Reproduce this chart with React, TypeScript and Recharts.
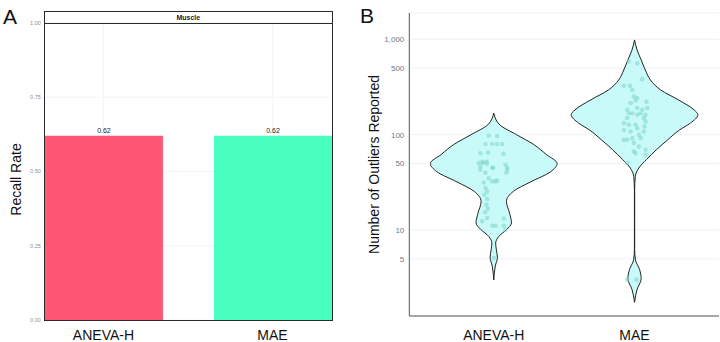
import React from 'react';
import {
  BarChart,
  Bar,
  Cell,
  ComposedChart,
  Area,
  Scatter,
  XAxis,
  YAxis,
  CartesianGrid,
  LabelList,
} from 'recharts';

const FONT = '"Liberation Sans", Arial, sans-serif';

// panel A
const methods = ['ANEVA-H', 'MAE'];
const recallRate = [0.62, 0.62];
const barColors = ['#ff5773', '#48ffc0'];
const recallTicks = [0, 0.25, 0.5, 0.75, 1];

// panel B - violin outlines (outliers reported, scaled density where 1 = widest)
const outlierTicks = [5, 10, 50, 100, 500, 1000];
const anevaLevels = [3, 4.2, 5.2, 6.3, 7.3, 8.6, 10.1, 11.9, 15, 20, 25.5, 32, 41, 50, 62, 79, 100, 127, 168];
const anevaDensity = [0, 0.024, 0.058, 0.04, 0.03, 0.08, 0.2, 0.28, 0.25, 0.2, 0.31, 0.58, 0.9, 1, 0.83, 0.63, 0.36, 0.094, 0];
const maeLevels = [1.75, 2.39, 3.1, 3.86, 4.9, 6.3, 12.9, 26.5, 36.5, 46, 55, 70, 88, 112, 132, 162, 182, 232, 295, 375, 477, 607, 773, 984];
const maeDensity = [0, 0.04, 0.105, 0.08, 0.014, 0.002, 0.002, 0.002, 0.012, 0.08, 0.19, 0.35, 0.52, 0.71, 0.88, 1, 0.94, 0.69, 0.41, 0.25, 0.17, 0.105, 0.04, 0];

// jittered observations: [offset from category centre, outliers reported]
const anevaPoints: [number, number][] = [
  [-0.036, 97.5], [0.024, 97], [-0.059, 80], [-0.011, 80], [0.024, 80], [0.06, 80],
  [-0.095, 64], [-0.04, 65], [0.069, 63], [-0.082, 52], [-0.052, 52], [-0.107, 50.5],
  [-0.075, 50.5], [-0.047, 49.7], [0.083, 48.5], [-0.095, 46.5], [-0.004, 45], [-0.011, 45],
  [0.095, 45], [0.095, 43], [-0.095, 43], [-0.059, 40], [0.09, 40], [-0.036, 35],
  [-0.011, 32.4], [-0.071, 31.6], [0.012, 32.4], [0.024, 33], [-0.059, 27.6], [-0.047, 25.5],
  [-0.066, 23.5], [-0.047, 21.2], [-0.052, 18.5], [-0.043, 16.7], [-0.061, 15.4], [-0.047, 13.4],
  [0.071, 13.2], [-0.082, 12.4], [-0.011, 11.1], [0.012, 11.1], [0.071, 11.1], [0.083, 10.1],
  [0, 5.1],
];
const maePoints: [number, number][] = [
  [-0.04, 583], [0.019, 561], [0.055, 382], [-0.076, 325], [-0.033, 325], [-0.016, 295],
  [-0.005, 251], [0.019, 242], [0.007, 228], [0.085, 222], [-0.028, 214], [0.019, 190],
  [-0.052, 182], [0.055, 182], [0.09, 190], [-0.04, 168], [-0.016, 168], [0.019, 162],
  [0.043, 168], [0.078, 162], [-0.052, 149], [0.066, 149], [-0.076, 132], [-0.04, 127],
  [0.007, 127], [0.078, 137], [0.071, 122], [0.019, 117], [-0.076, 112], [-0.028, 108],
  [0.066, 108], [0.031, 100], [-0.016, 92], [-0.076, 88.5], [-0.052, 88.5], [0.043, 92],
  [-0.005, 82], [0.031, 75], [0.078, 69.5], [-0.005, 67], [0.007, 64], [0.078, 62],
  [-0.052, 50.5], [-0.052, 3.03], [0.014, 3.03],
];

const VIOLIN_HALF = 0.45;

const barData = methods.map((name, i) => ({ pos: i + 1, name, recall: recallRate[i] }));

const violin = (center: number, levels: number[], density: number[]) =>
  levels.map((y, i) => ({
    y,
    range: [center - density[i] * VIOLIN_HALF, center + density[i] * VIOLIN_HALF],
  }));

const anevaViolin = violin(1, anevaLevels, anevaDensity);
const maeViolin = violin(2, maeLevels, maeDensity);
const jitter = [
  ...anevaPoints.map(([dx, y]) => ({ x: 1 + dx, y })),
  ...maePoints.map(([dx, y]) => ({ x: 2 + dx, y })),
];

const panelLabel: React.CSSProperties = {
  position: 'absolute',
  fontFamily: FONT,
  fontSize: 21,
  lineHeight: '21px',
  color: '#111',
};

const Dot = (props: any) => (
  <circle cx={props.cx} cy={props.cy} r={2.3} fill="#7fd6c6" fillOpacity={0.55} />
);

export default function App() {
  return (
    <div style={{ position: 'absolute', left: 0, top: 0, width: 720, height: 342, background: '#fff', fontFamily: FONT }}>
      <div style={{ ...panelLabel, left: 3, top: 6 }}>A</div>
      <div style={{ ...panelLabel, left: 360, top: 5 }}>B</div>

      {/* panel A: recall rate */}
      <div style={{ position: 'absolute', left: 0, top: 0 }}>
        <BarChart width={360} height={342} data={barData} margin={{ top: 23, right: 28.3, bottom: 0, left: 0 }}>
          <CartesianGrid stroke="#edf4f5" strokeWidth={0.8} verticalPoints={[103.3, 272.7]} />
          <XAxis
            type="number"
            dataKey="pos"
            domain={[0.65, 2.35]}
            ticks={[1, 2]}
            tickFormatter={(v: number) => methods[v - 1]}
            height={22}
            axisLine={false}
            tickLine={false}
            tickSize={0}
            tickMargin={10}
            tick={{ fontSize: 14, fill: '#111', fontFamily: FONT }}
          />
          <YAxis
            type="number"
            domain={[0, 1]}
            ticks={recallTicks}
            tickFormatter={(v: number) => v.toFixed(2)}
            width={44.3}
            axisLine={false}
            tickLine={false}
            tickSize={0}
            tickMargin={3.5}
            tick={{ fontSize: 5.5, fill: '#8a8f92', fontFamily: FONT }}
            label={{
              value: 'Recall Rate',
              angle: -90,
              position: 'insideLeft',
              offset: 16,
              dy: 8,
              style: { textAnchor: 'middle', fontSize: 14, fill: '#111', fontFamily: FONT },
            }}
          />
          <Bar dataKey="recall" barSize={118} isAnimationActive={false}>
            {barData.map((d, i) => (
              <Cell key={d.name} fill={barColors[i]} />
            ))}
            <LabelList
              dataKey="recall"
              position="top"
              offset={3}
              formatter={(v: any) => Number(v).toFixed(2)}
              style={{ fontSize: 7, fill: '#222', fontFamily: FONT }}
            />
          </Bar>
        </BarChart>
      </div>
      {/* facet strip and panel border */}
      <div
        style={{
          position: 'absolute',
          left: 44,
          top: 11,
          width: 286.7,
          height: 11,
          border: '1px solid #2a2a2a',
          borderBottom: 'none',
          fontSize: 7,
          fontWeight: 'bold',
          lineHeight: '11px',
          textAlign: 'center',
          color: '#222',
        }}
      >
        Muscle
      </div>
      <div
        style={{
          position: 'absolute',
          left: 44,
          top: 22.5,
          width: 286.7,
          height: 296.5,
          border: '1px solid #2a2a2a',
          borderLeftWidth: 1.3,
          borderBottomWidth: 1.3,
          pointerEvents: 'none',
        }}
      />

      {/* panel B: outliers reported */}
      <div style={{ position: 'absolute', left: 360, top: 0 }}>
        <ComposedChart width={360} height={342} layout="vertical" margin={{ top: 13, right: 1, bottom: 0, left: 0 }}>
          <CartesianGrid vertical={false} stroke="#e6f0f0" strokeWidth={0.8} />
          <XAxis
            type="number"
            dataKey="x"
            domain={[0.4, 2.6]}
            allowDataOverflow
            ticks={[1, 2]}
            tickFormatter={(v: number) => methods[v - 1]}
            height={26}
            axisLine={{ stroke: '#555', strokeWidth: 1 }}
            tickLine={false}
            tickSize={0}
            tickMargin={14}
            tick={{ fontSize: 14, fill: '#111', fontFamily: FONT }}
          />
          <YAxis
            type="number"
            dataKey="y"
            scale="log"
            reversed
            domain={[1.26, 1884]}
            allowDataOverflow
            ticks={outlierTicks}
            tickFormatter={(v: number) => v.toLocaleString('en-US')}
            width={49.3}
            axisLine={{ stroke: '#555', strokeWidth: 1 }}
            tickLine={false}
            tickSize={0}
            tickMargin={5}
            tick={{ fontSize: 8, fill: '#6f7a7e', fontFamily: FONT }}
            label={{
              value: 'Number of Outliers Reported',
              angle: -90,
              position: 'insideLeft',
              offset: 14,
              style: { textAnchor: 'middle', fontSize: 14, fill: '#111', fontFamily: FONT },
            }}
          />
          <Area
            data={anevaViolin}
            dataKey="range"
            type="monotone"
            fill="#c9fafa"
            fillOpacity={1}
            stroke="#222"
            strokeWidth={1}
            isAnimationActive={false}
          />
          <Area
            data={maeViolin}
            dataKey="range"
            type="monotone"
            fill="#c9fafa"
            fillOpacity={1}
            stroke="#222"
            strokeWidth={1}
            isAnimationActive={false}
          />
          <Scatter data={jitter} dataKey="y" shape={<Dot />} isAnimationActive={false} />
        </ComposedChart>
      </div>
    </div>
  );
}
